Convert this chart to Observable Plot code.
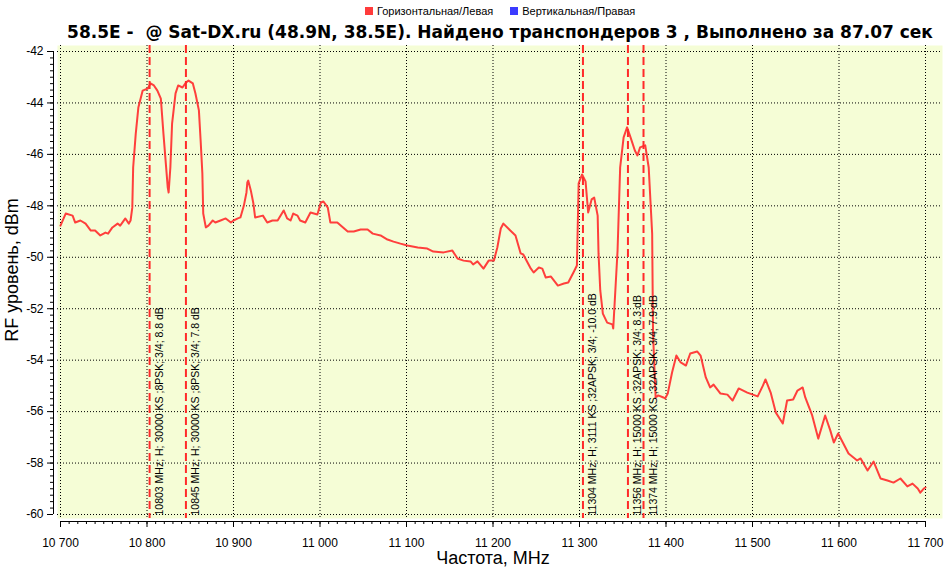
<!DOCTYPE html>
<html><head><meta charset="utf-8">
<script src="https://cdn.jsdelivr.net/npm/d3@7"></script>
<script src="https://cdn.jsdelivr.net/npm/@observablehq/plot@0.6"></script>
<style>
body{margin:0;background:#fff;}
#wrap{position:relative;width:945px;height:567px;overflow:hidden;font-family:"Liberation Sans",Arial,sans-serif;}
#chart{position:absolute;left:0;top:0;}
#legend{position:absolute;top:3px;left:365px;font-size:11px;white-space:nowrap;z-index:2;display:flex;align-items:center;height:16px;}
#legend .item{display:flex;align-items:center;margin-right:17px;}
#legend .sw{width:8px;height:8px;margin-right:4px;}
#title{position:absolute;top:22px;left:0;width:1000px;text-align:center;font-family:"DejaVu Sans",Verdana,sans-serif;font-weight:bold;font-size:17px;white-space:pre;z-index:2;color:#000;}
</style></head>
<body>
<div id="wrap"><div id="chart"></div><div id="legend"></div><div id="title"></div></div>
<script>
const titleText = "58.5E -  @ Sat-DX.ru (48.9N, 38.5E). Найдено транспондеров 3 , Выполнено за 87.07 сек";
const seriesNames = ["Горизонтальная/Левая", "Вертикальная/Правая"];
const seriesColors = ["#ff3b3b", "#3b3bff"];
const xLabel = "Частота, MHz";
const yLabel = "RF уровень, dBm";
const xTicks = [10700,10800,10900,11000,11100,11200,11300,11400,11500,11600,11700];
const xTickLabels = ["10 700","10 800","10 900","11 000","11 100","11 200","11 300","11 400","11 500","11 600","11 700"];
const yTicks = [-60,-58,-56,-54,-52,-50,-48,-46,-44,-42];
const markerFreqs = [10803, 10845, 11304, 11356, 11374];
const markerLabels = [
  "10803 MHz; H; 30000 KS ;8PSK; 3/4; 8.8 dB",
  "10845 MHz; H; 30000 KS ;8PSK; 3/4; 7.8 dB",
  "11304 MHz; H; 3111 KS ;32APSK; 3/4; -10.0 dB",
  "11356 MHz; H; 15000 KS ;32APSK; 3/4; 8.3 dB",
  "11374 MHz; H; 15000 KS ;32APSK; 3/4; 7.9 dB"
];
const freqs = [10700,10706,10714,10717,10723,10729,10735,10740,10746,10752,10755,10760,10766,10769,10775,10779,10781,10783,10784,10787,10790,10795,10801,10804,10808,10812,10816,10819,10824,10825,10827,10829,10833,10836,10841,10845,10848,10853,10856,10860,10862,10864,10865,10868,10871,10876,10879,10885,10891,10897,10900,10905,10908,10912,10915,10916,10917,10920,10923,10925,10934,10939,10945,10951,10958,10962,10966,10969,10974,10977,10983,10989,10997,11001,11004,11009,11012,11020,11032,11039,11047,11055,11061,11070,11078,11085,11093,11101,11113,11124,11131,11143,11153,11159,11166,11174,11177,11182,11189,11195,11201,11205,11209,11212,11220,11226,11232,11235,11243,11247,11253,11257,11261,11267,11275,11282,11287,11293,11297,11299,11303,11307,11310,11314,11317,11321,11322,11324,11327,11332,11338,11339,11344,11347,11351,11355,11359,11364,11367,11370,11376,11380,11382,11384,11385,11388,11391,11397,11399,11402,11407,11412,11417,11423,11428,11436,11440,11446,11451,11455,11463,11471,11477,11484,11494,11506,11512,11515,11521,11527,11535,11540,11547,11552,11558,11561,11569,11576,11584,11590,11594,11599,11605,11611,11621,11625,11633,11640,11648,11656,11663,11671,11679,11685,11691,11694,11698,11700];
const levels = [-48.77,-48.30,-48.38,-48.65,-48.57,-48.69,-48.96,-48.96,-49.15,-49.04,-49.08,-48.84,-48.69,-48.77,-48.49,-48.69,-48.57,-48.07,-46.51,-45.19,-44.18,-43.52,-43.44,-43.24,-43.32,-43.52,-43.83,-45.19,-47.29,-47.48,-46.51,-44.80,-43.63,-43.32,-43.40,-43.21,-43.13,-43.24,-43.63,-44.29,-45.46,-46.74,-48.30,-48.84,-48.77,-48.57,-48.65,-48.57,-48.49,-48.65,-48.57,-48.49,-48.45,-47.99,-47.48,-47.09,-47.02,-47.40,-47.91,-48.45,-48.38,-48.65,-48.57,-48.57,-48.18,-48.49,-48.57,-48.30,-48.38,-48.57,-48.65,-48.26,-48.34,-47.87,-47.83,-48.07,-48.65,-48.65,-49.00,-49.00,-48.92,-48.92,-49.08,-49.15,-49.31,-49.39,-49.47,-49.54,-49.62,-49.66,-49.78,-49.81,-49.74,-50.05,-50.13,-50.16,-50.28,-50.16,-50.44,-50.13,-50.13,-49.62,-48.88,-48.69,-48.96,-49.15,-49.85,-49.89,-50.40,-50.59,-50.40,-50.44,-50.79,-50.75,-51.10,-51.02,-50.98,-50.59,-50.32,-47.13,-46.78,-47.05,-48.26,-47.75,-47.68,-48.38,-49.85,-51.29,-52.19,-52.54,-52.61,-52.77,-49.74,-46.51,-45.34,-44.95,-45.34,-45.85,-46.04,-45.73,-45.65,-46.51,-47.79,-49.08,-52.96,-55.45,-55.37,-55.45,-55.49,-55.30,-54.48,-53.82,-54.09,-54.21,-53.74,-53.66,-53.82,-54.67,-55.06,-54.95,-55.30,-55.34,-55.57,-55.10,-55.26,-55.41,-54.99,-54.75,-55.26,-56.04,-56.46,-55.57,-55.53,-55.18,-55.06,-55.45,-56.15,-57.05,-56.15,-56.74,-57.20,-56.85,-57.24,-57.63,-57.90,-57.82,-58.29,-57.94,-58.60,-58.68,-58.76,-58.60,-58.91,-58.80,-58.99,-59.15,-58.99,-58.95];

const spectrum = freqs.map((f, i) => ({f, l: levels[i]}));
const markers = markerFreqs.map((f, i) => ({f, label: markerLabels[i]}));
const xMinor = d3.range(xTicks[0], xTicks[xTicks.length - 1] + 1, 10);
const yMinor = d3.range(yTicks[0], yTicks[yTicks.length - 1] + 0.01, 0.25);

// legend
const legend = d3.select("#legend");
seriesNames.forEach((n, i) => {
  const it = legend.append("div").attr("class", "item");
  it.append("div").attr("class", "sw").style("background", seriesColors[i]);
  it.append("span").text(n);
});
d3.select("#title").text(titleText);

const chart = Plot.plot({
  width: 945, height: 567,
  marginLeft: 57, marginRight: 3, marginTop: 45, marginBottom: 49,
  x: {domain: [10696.53, 11719.65], axis: null},
  y: {domain: [-60.1555, -41.7667], axis: null},
  style: {fontFamily: "Liberation Sans, Arial, sans-serif", background: "transparent", overflow: "visible", color: "#000"},
  marks: [
    Plot.frame({fill: "#f5fdd6", stroke: "none"}),
    Plot.gridX(xTicks, {stroke: "#000", strokeOpacity: 1, strokeDasharray: "1,2"}),
    Plot.gridY(yTicks, {stroke: "#000", strokeOpacity: 1, strokeDasharray: "1,2"}),
    Plot.line(spectrum, {x: "f", y: "l", stroke: "#ff2f2f", strokeWidth: 2, strokeOpacity: 0.92}),
    Plot.ruleX(markers, {x: "f", stroke: "#ff2a2a", strokeWidth: 2, strokeDasharray: "8,4"}),
    Plot.text(markers, {x: "f", text: "label", frameAnchor: "bottom", rotate: -90, textAnchor: "start", lineAnchor: "middle", dx: 10, dy: -3, fontSize: 10.5, fill: "#000"}),
    // y axis
    Plot.ruleX([xTicks[0]], {y1: yTicks[0], y2: yTicks[yTicks.length - 1], dx: -7, stroke: "#000"}),
    Plot.axisY(yMinor, {anchor: "left", tickSize: 3, dx: -4, tickFormat: () => "", label: null}),
    Plot.axisY(yTicks, {anchor: "left", tickSize: 6, tickPadding: 4, dx: -4, fontSize: 12, tickFormat: d => String(d), label: null}),
    // x axis
    Plot.ruleY([yTicks[0]], {x1: xTicks[0], x2: xTicks[xTicks.length - 1], dy: 7, stroke: "#000"}),
    Plot.axisX(xMinor, {anchor: "bottom", tickSize: 3, dy: 3, tickFormat: () => "", label: null}),
    Plot.axisX(xTicks, {anchor: "bottom", tickSize: 6, tickPadding: 11, dy: 3, fontSize: 12, tickFormat: d => xTickLabels[xTicks.indexOf(d)], label: null}),
    // axis titles
    Plot.text([xLabel], {frameAnchor: "bottom", text: d => d, dy: 40, dx: -7, fontSize: 18, lineAnchor: "middle"}),
    Plot.text([yLabel], {frameAnchor: "left", text: d => d, rotate: -90, textAnchor: "middle", lineAnchor: "middle", dx: -45, dy: -12, fontSize: 18})
  ]
});
document.getElementById("chart").appendChild(chart);
</script>
</body></html>
